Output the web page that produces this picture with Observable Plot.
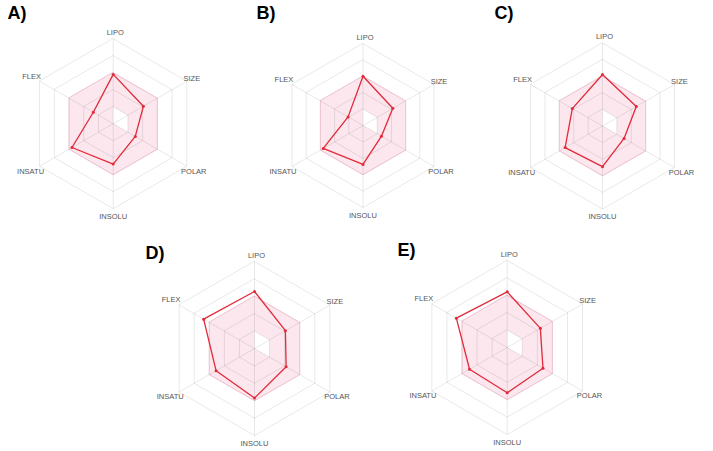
<!DOCTYPE html>
<html>
<head>
<meta charset="utf-8">
<script src="https://cdn.jsdelivr.net/npm/d3@7"></script>
<script src="https://cdn.jsdelivr.net/npm/@observablehq/plot@0.6"></script>
<style>
  html, body { margin: 0; padding: 0; background: #fff; }
  #chart svg { display: block; }
</style>
</head>
<body>
<div id="chart"></div>
<script>
// ---- data ----
const axisNames = ["LIPO", "SIZE", "POLAR", "INSOLU", "INSATU", "FLEX"];
const panelLabels = ["A)", "B)", "C)", "D)", "E)"];
// normalized radial values (0 = centre, 1 = outer ring), order as axisNames
const panelA = [0.58, 0.41, 0.30, 0.475, 0.56, 0.27];
const panelB = [0.60, 0.42, 0.26, 0.475, 0.56, 0.21];
const panelC = [0.62, 0.47, 0.30, 0.49, 0.52, 0.42];
const panelD = [0.655, 0.41, 0.42, 0.57, 0.51, 0.675];
const panelE = [0.64, 0.44, 0.475, 0.52, 0.50, 0.675];
const gridLevels = [0.2, 0.4, 0.6, 0.8, 1.0];
const optimalLow = [0.2, 0.2, 0.2, 0, 0, 0];
const optimalHigh = [0.6, 0.6, 0.6, 0.6, 0.6, 0.6];

const panelValues = [panelA, panelB, panelC, panelD, panelE];

// ---- layout ----
const layout = [
  {cx: 112.7, cy: 123.2, R: 85, lx: 7, ly: 13},
  {cx: 362.5, cy: 125, R: 82, lx: 256, ly: 13},
  {cx: 602, cy: 125.5, R: 83, lx: 494, ly: 13},
  {cx: 254, cy: 348, R: 87, lx: 145, ly: 253},
  {cx: 506.7, cy: 347, R: 87, lx: 397, ly: 250}
];
const ang = i => (-90 + 60 * i) * Math.PI / 180;
const px = (p, i, r) => layout[p].cx + r * layout[p].R * Math.cos(ang(i));
const py = (p, i, r) => layout[p].cy + r * layout[p].R * Math.sin(ang(i));

// pink optimal zone (keyhole polygon: outer ring, then inner ring reversed)
const pinkPts = [];
panelLabels.forEach((_, p) => {
  const seq = [];
  for (let i = 0; i < 6; i++) seq.push([i, optimalHigh[i]]);
  seq.push([0, optimalHigh[0]]);
  seq.push([0, optimalLow[0]]);
  for (let i = 5; i >= 1; i--) seq.push([i, optimalLow[i]]);
  seq.push([0, optimalLow[0]]);
  seq.forEach(([i, r]) => pinkPts.push({panel: p, i, r}));
});
const pinkEdge = [];
panelLabels.forEach((_, p) => axisNames.forEach((a, i) => pinkEdge.push({panel: p, i, r: optimalHigh[i]})));

const ringPts = [];
panelLabels.forEach((_, p) => gridLevels.forEach(l => axisNames.forEach((a, i) => ringPts.push({panel: p, level: l, i, r: l}))));

const spokes = [];
panelLabels.forEach((_, p) => axisNames.forEach((a, i) => spokes.push({panel: p, i})));

const valuePts = [];
panelValues.forEach((vals, p) => vals.forEach((v, i) => valuePts.push({panel: p, i, r: v})));

// axis label placements relative to the outer vertex
const labelPos = [
  {dx: 2, dy: -6, anchor: "middle"},
  {dx: 5, dy: -3, anchor: "start"},
  {dx: 7, dy: 5, anchor: "start"},
  {dx: 0, dy: 8, anchor: "middle"},
  {dx: -9, dy: 5, anchor: "end"},
  {dx: -8, dy: -5, anchor: "end"}
];
const axisLabels = [];
panelLabels.forEach((_, p) => axisNames.forEach((a, i) => axisLabels.push({panel: p, i, name: a})));

const letters = panelLabels.map((t, p) => ({t, p}));

const chart = Plot.plot({
  width: 713,
  height: 451,
  margin: 0,
  style: {background: "#fff"},
  x: {domain: [0, 713], range: [0, 713], axis: null},
  y: {domain: [0, 451], range: [0, 451], axis: null},
  marks: [
    Plot.line(pinkPts, {
      x: d => px(d.panel, d.i, d.r), y: d => py(d.panel, d.i, d.r),
      z: "panel", fill: "#fbe7ed", stroke: "none", curve: "linear-closed"
    }),
    Plot.line(ringPts, {
      x: d => px(d.panel, d.i, d.r), y: d => py(d.panel, d.i, d.r),
      z: d => d.panel + "-" + d.level, curve: "linear-closed",
      stroke: "#000", strokeOpacity: 0.09, strokeWidth: 1
    }),
    Plot.line(pinkEdge, {
      x: d => px(d.panel, d.i, d.r), y: d => py(d.panel, d.i, d.r),
      z: "panel", curve: "linear-closed", stroke: "#f1c5d2", strokeWidth: 1
    }),
    Plot.link(spokes, {
      x1: d => layout[d.panel].cx, y1: d => layout[d.panel].cy,
      x2: d => px(d.panel, d.i, 1), y2: d => py(d.panel, d.i, 1),
      stroke: "#000", strokeOpacity: 0.09, strokeWidth: 1
    }),
    Plot.line(valuePts, {
      x: d => px(d.panel, d.i, d.r), y: d => py(d.panel, d.i, d.r),
      z: "panel", curve: "linear-closed", stroke: "#e22a3a", strokeWidth: 1.3
    }),
    Plot.dot(valuePts, {
      x: d => px(d.panel, d.i, d.r), y: d => py(d.panel, d.i, d.r),
      r: 1.5, fill: "#e22a3a", stroke: "none"
    }),
    Plot.text(axisLabels, {
      x: d => px(d.panel, d.i, 1) + labelPos[d.i].dx,
      y: d => py(d.panel, d.i, 1) + labelPos[d.i].dy,
      text: "name",
      textAnchor: d => labelPos[d.i].anchor,
      fontSize: 7.5, fill: "#555", fontFamily: "Liberation Sans, Arial, sans-serif"
    }),
    Plot.text(letters, {
      x: d => layout[d.p].lx, y: d => layout[d.p].ly,
      text: "t", textAnchor: "start",
      fontSize: 18, fontWeight: "bold", fill: "#000",
      fontFamily: "Liberation Sans, Arial, sans-serif"
    })
  ]
});
document.getElementById("chart").appendChild(chart);
</script>
</body>
</html>
